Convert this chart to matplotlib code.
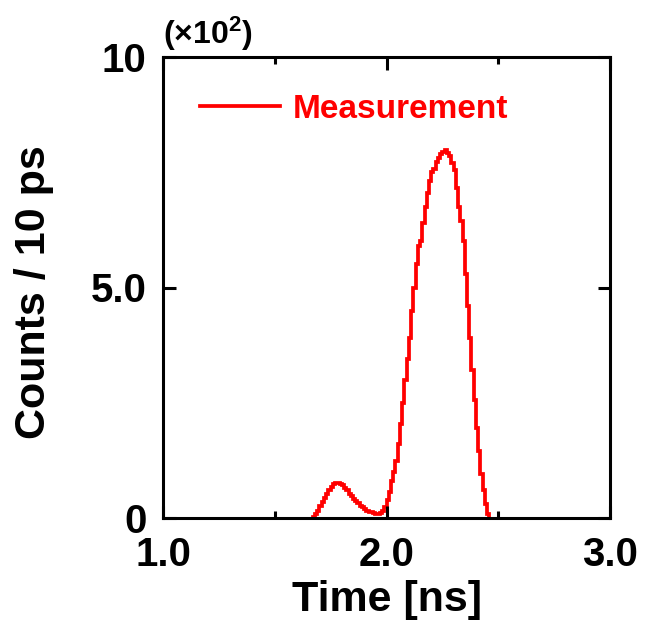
import numpy as np
import matplotlib
matplotlib.use("Agg")
import matplotlib.pyplot as plt
from matplotlib.ticker import MultipleLocator

plt.rcParams['font.family'] = ['Liberation Sans', 'DejaVu Sans']
plt.rcParams['font.weight'] = 'bold'
plt.rcParams['mathtext.fontset'] = 'custom'
plt.rcParams['mathtext.rm'] = 'Liberation Sans:bold'
plt.rcParams['mathtext.bf'] = 'Liberation Sans:bold'

# Histogram: 10 ps bins starting at 1.67 ns, counts per bin
bin_start = 1.67
bin_width = 0.01
counts = [3, 8, 15, 25, 34, 43, 52, 60, 67, 73,
          77, 76, 74, 71, 66, 60, 53, 47, 41, 36,
          32, 27, 24, 19, 16, 14, 12, 10, 9, 8,
          11, 16, 24, 38, 56, 80, 100, 124, 160, 204,
          250, 300, 345, 390, 450, 500, 550, 590, 600, 640,
          675, 705, 730, 750, 758, 772, 780, 790, 795, 798,
          792, 785, 770, 755, 715, 675, 645, 600, 530, 460,
          390, 320, 255, 195, 145, 95, 60, 30, 8]

x_ticks = [1.0, 2.0, 3.0]
x_ticklabels = ['1.0', '2.0', '3.0']
y_ticks = [0, 5, 10]
y_ticklabels = ['0', '5.0', '10']

edges = bin_start + bin_width * np.arange(len(counts) + 1)
vals = np.array(counts) / 100.0

fig = plt.figure(figsize=(6.5, 6.25), dpi=100)
ax = fig.add_axes([0.2508, 0.1712, 0.6877, 0.7376])

ax.stairs(vals, edges, color='#ff0000', linewidth=2.7, label='Measurement')

ax.set_xlim(1.0, 3.0)
ax.set_ylim(0, 10)
ax.set_xticks(x_ticks)
ax.set_xticklabels(x_ticklabels)
ax.xaxis.set_minor_locator(MultipleLocator(0.5))
ax.set_yticks(y_ticks)
ax.set_yticklabels(y_ticklabels)

ax.tick_params(which='both', direction='in', top=True, right=True, width=2.2,
               labelsize=29)
ax.tick_params(axis='x', pad=13)
ax.tick_params(axis='y', pad=12)
ax.tick_params(which='major', length=9)
ax.tick_params(which='minor', length=5)
for s in ax.spines.values():
    s.set_linewidth(2.2)

ax.set_xlabel('Time [ns]', fontsize=31, fontweight='bold', labelpad=4)
ax.set_ylabel('Counts / 10 ps', fontsize=31, fontweight='bold')
ax.yaxis.set_label_coords(-0.245, 0.49)

fig.text(0.251, 0.915, r'$\mathbf{(\times 10^{2})}$', fontsize=23,
         ha='left', va='bottom')

leg = ax.legend(loc='upper left', bbox_to_anchor=(0.015, 0.985), frameon=False,
                fontsize=24, handlelength=2.4, handletextpad=0.4,
                labelcolor='#ff0000')
for t in leg.get_texts():
    t.set_fontweight('bold')

fig.savefig('out.png', dpi=100)
